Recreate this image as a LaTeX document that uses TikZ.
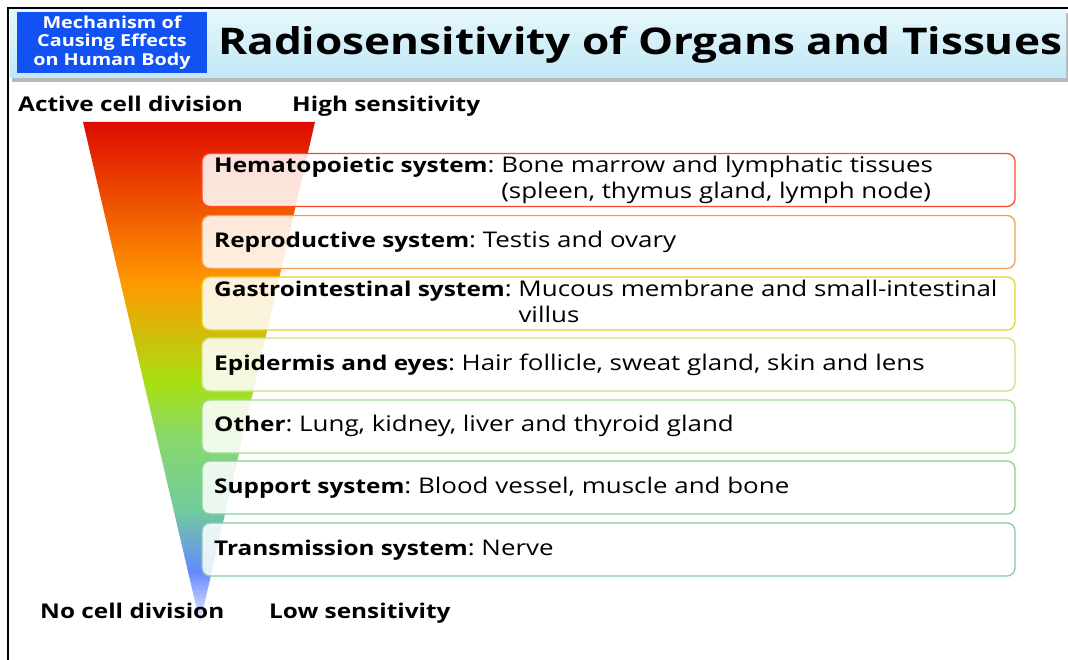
\documentclass[tikz,border=0pt]{standalone}
\usepackage{fontspec}
\setmainfont{Open Sans}[FakeStretch=1.2]
\frenchspacing
\definecolor{triW}{HTML}{F0F2FF}
\definecolor{triB}{HTML}{6688FF}
\definecolor{triT}{HTML}{70CC9C}
\definecolor{triL}{HTML}{88D86E}
\definecolor{triG}{HTML}{A6E012}
\definecolor{triO}{HTML}{FF9900}
\definecolor{triR}{HTML}{DD0A00}
\definecolor{bandTop}{HTML}{E6F7FC}
\definecolor{bandBot}{HTML}{C0E8F5}
\definecolor{headBlue}{HTML}{1252F2}
\definecolor{bc1}{HTML}{FF4A2A}
\definecolor{bc2}{HTML}{F0A050}
\definecolor{bc3}{HTML}{E2D42A}
\definecolor{bc4}{HTML}{C8E282}
\definecolor{bc5}{HTML}{A2DC92}
\definecolor{bc6}{HTML}{84D294}
\definecolor{bc7}{HTML}{82CCA4}
\newcommand{\orgname}[1]{{\fontsize{20.3}{26}\selectfont\bfseries #1}}
\pgfdeclareverticalshading{trishade}{100bp}{color(0bp)=(triW); color(25bp)=(triW); color(30.1bp)=(triB); color(36.3bp)=(triT); color(43.3bp)=(triL); color(48.95bp)=(triG); color(59bp)=(triO); color(75bp)=(triR); color(100bp)=(triR)}
\tikzset{
  orgbox/.style={draw=#1, line width=1.3pt, rounded corners=8pt, fill=white, fill opacity=0.86,
    minimum width=813pt, minimum height=53pt, inner sep=0pt},
  orgtext/.style={anchor=base west, inner sep=0pt, align=left,
    font=\fontsize{21.6}{26}\selectfont},
  sidelabel/.style={anchor=base west, font=\fontsize{20.3}{24}\selectfont\bfseries, inner sep=0pt},
}
\begin{document}
\begin{tikzpicture}[x=1pt,y=-1pt]
\useasboundingbox (0,0) rectangle (1068,660);
\fill[white] (0,0) rectangle (1068,660);
% frame
\draw[black, line width=2pt] (8,660) -- (8,8) -- (1068,8);
% header band
\fill[gray!55] (12,13) rectangle (1068,82);
\shade[top color=bandTop, bottom color=bandBot] (10,10) rectangle (1066,78);
\node[fill=headBlue, minimum width=190pt, minimum height=61pt, inner sep=0pt, align=center,
  text=white, font=\fontsize{16.5}{18.5}\selectfont\bfseries] (mech) at (112,42.5)
  {Mechanism of\\Causing Effects\\on Human Body};
\node[anchor=base west, inner sep=0pt, font=\fontsize{36.8}{44}\selectfont\bfseries] (title) at (218,55)
  {Radiosensitivity of Organs and Tissues};
% triangle
\shade[shading=trishade] (83,122) -- (315,122) -- (200,623) -- cycle;
% side labels
\node[sidelabel] (act) at (18,112) {Active cell division};
\node[sidelabel] (high) at (292,112) {High sensitivity};
\node[sidelabel] (nocd) at (40,618) {No cell division};
\node[sidelabel] (low) at (269,618) {Low sensitivity};
% boxes
\node[orgbox=bc1] (b1) at (608.5,180) {};
\node[orgbox=bc2] (b2) at (608.5,242) {};
\node[orgbox=bc3] (b3) at (608.5,303.5) {};
\node[orgbox=bc4] (b4) at (608.5,364.5) {};
\node[orgbox=bc5] (b5) at (608.5,426.5) {};
\node[orgbox=bc6] (b6) at (608.5,487.5) {};
\node[orgbox=bc7] (b7) at (608.5,549.5) {};
% texts
\node[orgtext] (t1) at (214,173) {\orgname{Hematopoietic system}: \begin{tabular}[t]{@{}l@{}}Bone marrow and lymphatic tissues\\ (spleen, thymus gland, lymph node)\end{tabular}};
\node[orgtext] (t2) at (214,248) {\orgname{Reproductive system}: Testis and ovary};
\node[orgtext] (t3) at (214,296.5) {\orgname{Gastrointestinal system}: \begin{tabular}[t]{@{}l@{}}Mucous membrane and small-intestinal\\ villus\end{tabular}};
\node[orgtext] (t4) at (214,370) {\orgname{Epidermis and eyes}: Hair follicle, sweat gland, skin and lens};
\node[orgtext] (t5) at (214,431.5) {\orgname{Other}: Lung, kidney, liver and thyroid gland};
\node[orgtext] (t6) at (214,493) {\orgname{Support system}: Blood vessel, muscle and bone};
\node[orgtext] (t7) at (214,555) {\orgname{Transmission system}: Nerve};
\end{tikzpicture}
\end{document}
